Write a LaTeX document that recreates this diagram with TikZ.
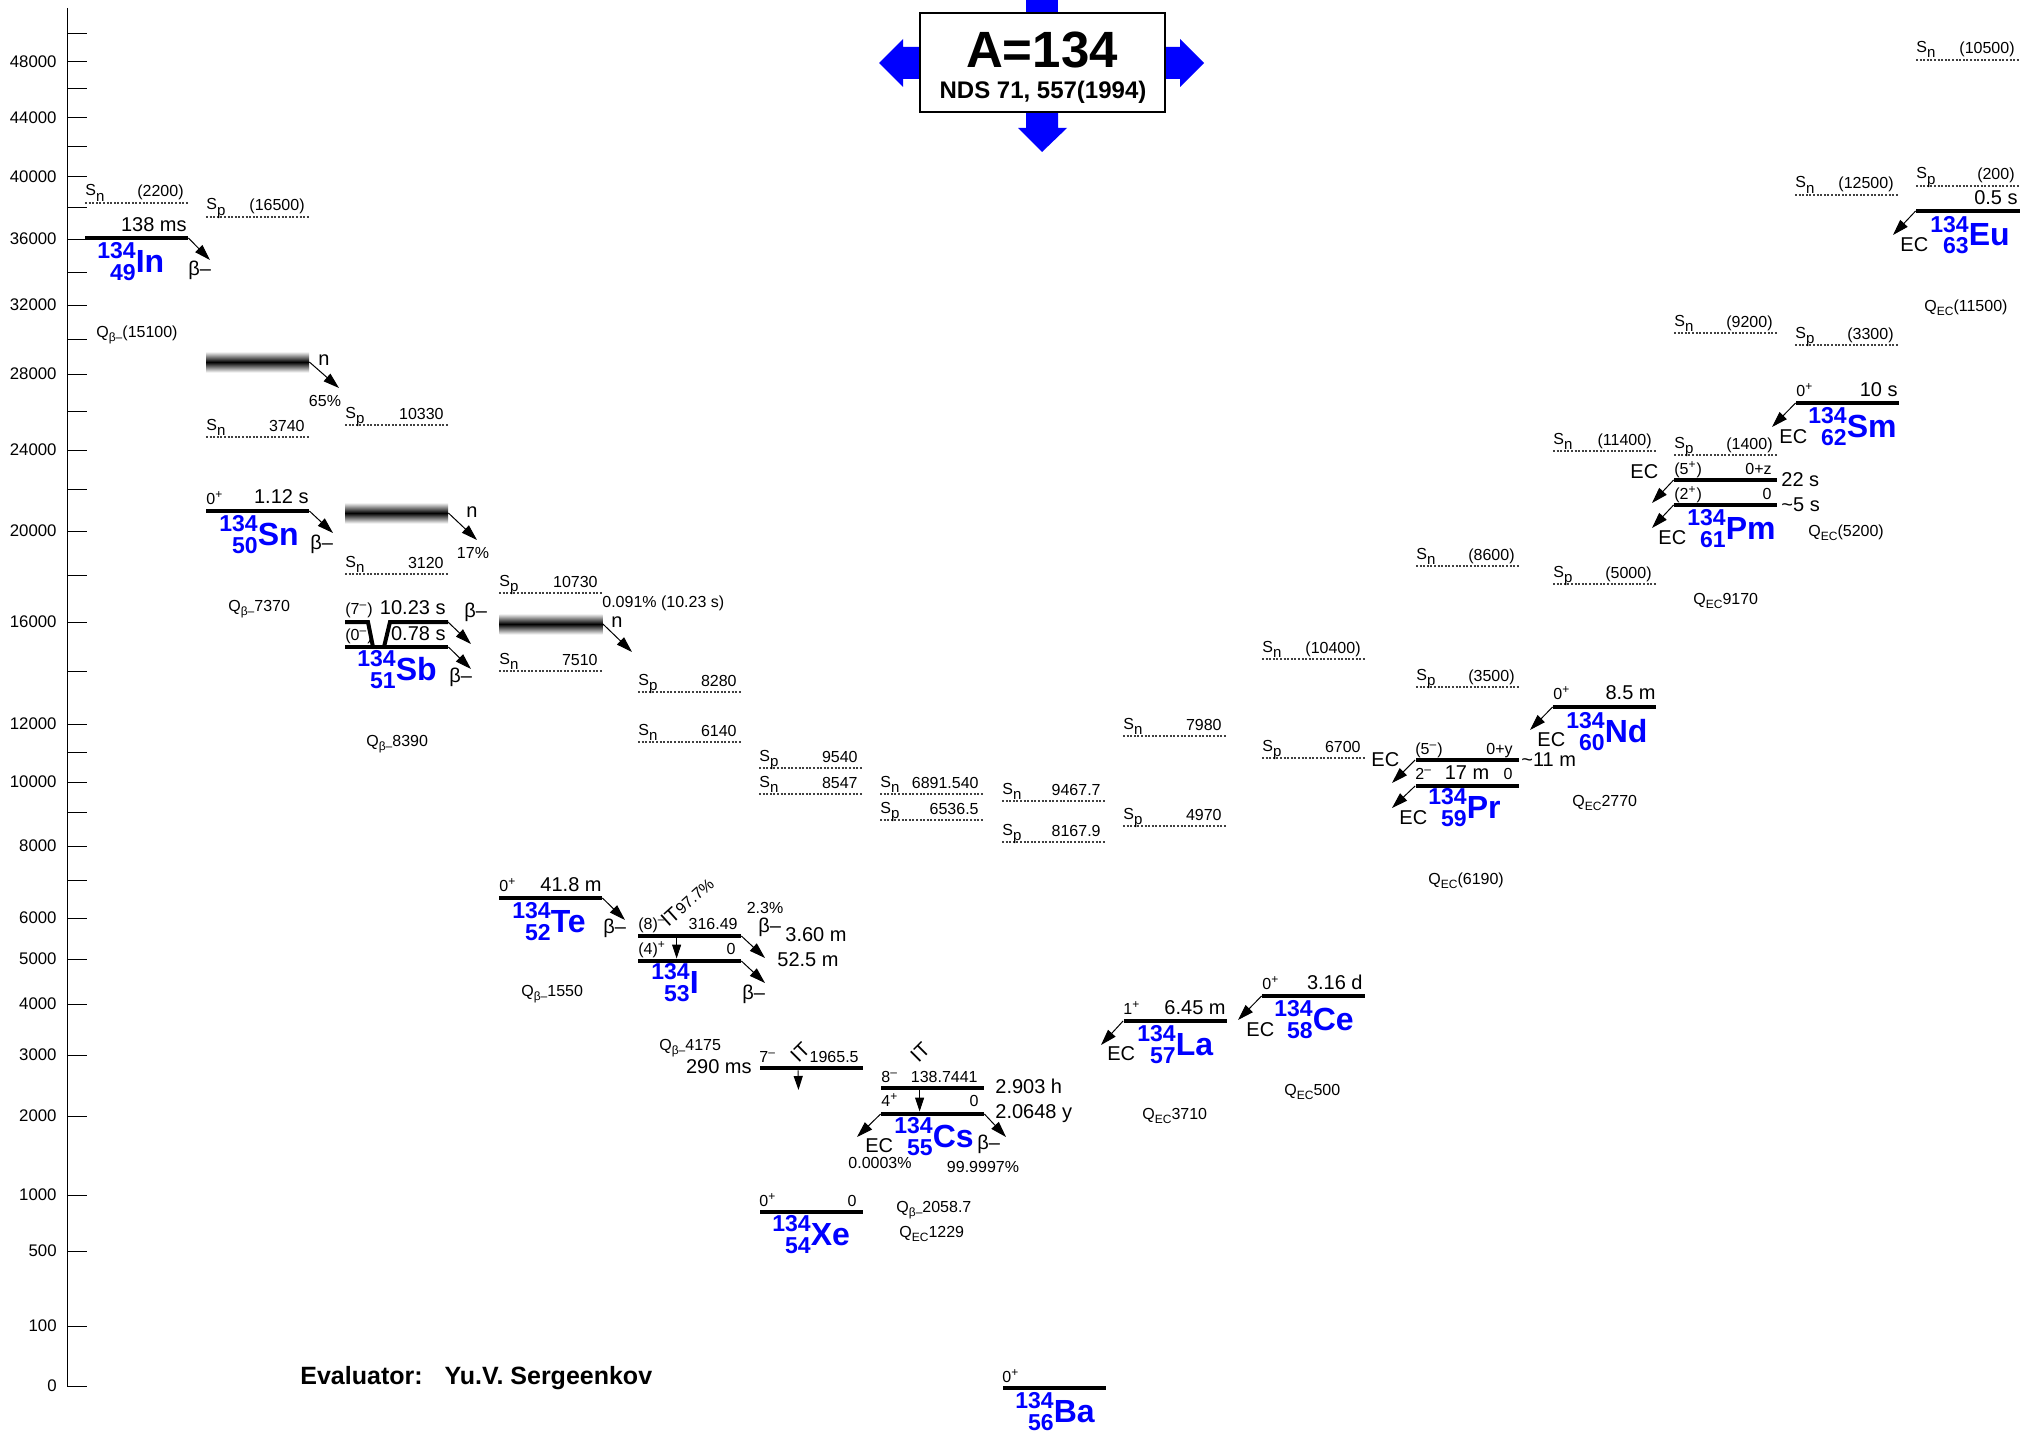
\documentclass[tikz,border=0pt]{standalone}
\usepackage{fontspec}
\setmainfont{Liberation Sans}
\usetikzlibrary{arrows.meta}
\definecolor{nucblue}{RGB}{0,0,255}

% lowered small index (Q-values)
\newcommand{\lowsub}[1]{\raisebox{-2pt}{\fontsize{6}{6}\selectfont #1}}
% lowered index of S_n / S_p
\newcommand{\sepsub}[1]{\raisebox{-2.5pt}{\fontsize{7.5}{7.5}\selectfont #1}}
% nuclide label: mass and charge stacked, right aligned, then symbol
\newcommand{\nuc}[3]{{\color{nucblue}\bfseries
  \setbox0=\hbox{\fontsize{11.5}{12}\selectfont #1}%
  \setbox2=\hbox{\fontsize{11.5}{12}\selectfont #2}%
  \ifdim\wd0>\wd2 \dimen0=\wd0 \else \dimen0=\wd2 \fi
  \hbox to \dimen0{\hss\raise6.7pt\box0}%
  \kern-\dimen0
  \hbox to \dimen0{\hss\lower4pt\box2}%
  \fontsize{16}{16}\selectfont #3}}

\begin{document}
\begin{tikzpicture}[x=0.5pt, y=-0.5pt,
  lvl/.style   ={fill=black, inner sep=0pt, minimum width=51.5pt, minimum height=2pt},
  band/.style  ={inner sep=0pt, minimum width=51.5pt, minimum height=10pt,
                 top color=black!5, bottom color=black!5, middle color=black},
  seplin/.style={dash pattern=on 1pt off 0.8pt, line width=0.6pt, black!75},
  decay/.style ={-{Triangle[length=8pt,width=5pt]}, line width=0.5pt},
  itarr/.style ={-{Triangle[length=7pt,width=4.5pt]}, line width=0.5pt},
  sml/.style   ={font=\fontsize{8}{9}\selectfont, inner sep=0pt},
  hl/.style    ={font=\fontsize{10}{11}\selectfont, inner sep=0pt},
  axl/.style   ={font=\fontsize{8.4}{9}\selectfont, inner sep=0pt, anchor=east},
  nucl/.style  ={inner sep=0pt, anchor=base west},
  bw/.style    ={anchor=base west},
  be/.style    ={anchor=base east},
]
\useasboundingbox (0,0) rectangle (2042,1434);

%% ═══ Energy axis ═══
\draw[line width=0.5pt] (67,8) -- (67,1386);
\foreach \ty in {34,89,147,208,272,339,411,489,575,671,752,812,880}
  \draw[line width=0.5pt] (67,\ty) -- (87,\ty);
\foreach \ty/\tl [count=\i] in {62/48000,118/44000,177/40000,239/36000,
    305/32000,374/28000,450/24000,531/20000,622/16000,724/12000,
    782/10000,846/8000,918/6000,959/5000,1004/4000,1055/3000,1116/2000,
    1195/1000,1251/500,1326/100,1386/0} {
  \draw[line width=0.5pt] (67,\ty) -- (87,\ty);
  \node[axl] (ax\i) at (57,\ty) {\tl};
}

%% ═══ Title ═══
\fill[blue] (1026,0) rectangle (1058,13);
\fill[blue] (920,47) -- (903,47) -- (903,39) -- (879,63) -- (903,87) -- (903,79) -- (920,79) -- cycle;
\fill[blue] (1165,47) -- (1180,47) -- (1180,39) -- (1204,63) -- (1180,87) -- (1180,79) -- (1165,79) -- cycle;
\fill[blue] (1026,112) -- (1026,128) -- (1018,128) -- (1042,152) -- (1067,128) -- (1058,128) -- (1058,112) -- cycle;
\node[draw, line width=1pt, fill=white, inner sep=0pt,
      minimum width=122.5pt, minimum height=49.5pt] (tbox) at (1042.5,62.5) {};
\node[font=\fontsize{25.5}{25.5}\selectfont\bfseries, inner sep=0pt, anchor=base]
  (tA) at (1042,68) {A=134};
\node[font=\fontsize{12}{12}\selectfont\bfseries, inner sep=0pt, anchor=base]
  (tR) at (1043,99) {NDS 71, 557(1994)};

%% ═══ Separation energies ═══
\foreach \sx/\sy/\st/\sv [count=\i] in {85/203/n/{(2200)}, 206/217/p/{(16500)},
    206/437/n/3740, 345/425/p/10330, 345/574/n/3120, 499/593/p/10730,
    499/671/n/7510, 638/692/p/8280, 638/742/n/6140, 759/768/p/9540,
    759/794/n/8547, 880/794/n/6891.540, 880/820/p/6536.5, 1002/801/n/9467.7,
    1002/842/p/8167.9, 1123/736/n/7980, 1123/826/p/4970, 1262/659/n/{(10400)},
    1262/758/p/6700, 1416/566/n/{(8600)}, 1416/687/p/{(3500)},
    1553/451/n/{(11400)}, 1553/584/p/{(5000)}, 1674/333/n/{(9200)},
    1674/455/p/{(1400)}, 1795/195/n/{(12500)}, 1795/345/p/{(3300)},
    1916/60/n/{(10500)}, 1916/186/p/{(200)}} {
  \draw[seplin] (\sx,\sy) -- ++(103,0);
  \node[sml, bw] (sS\i) at (\sx,\sy-7) {S\sepsub{\st}};
  \node[sml, be] (sV\i) at (\sx+99,\sy-6) {\sv};
}

%% ═══ 134In ═══
\node[lvl] (In0) at (136.5,238) {};
\node[hl, be] (In0t) at (187,231) {138 ms};
\node[nucl] (nIn) at (97,272) {\nuc{134}{49}{In}};
\coordinate (In0b) at (210,260);
\draw[decay] (In0.east) -- (In0b);
\node[hl, bw] (In0bl) at (188,276) {β–};
\node[sml, bw] (qIn) at (96,337) {Q\lowsub{β–}(15100)};

%% ═══ 134Sn ═══
\node[band] (bSn) at (257.5,362) {};
\node[hl, bw] (bSnn) at (318,365) {n};
\coordinate (bSnb) at (339,388);
\draw[decay] (bSn.east) -- (bSnb);
\node[sml] (bSnp) at (325,401) {65\%};
\node[lvl] (Sn0) at (257.5,511) {};
\node[sml, bw] (Sn0j) at (206,504) {0\textsuperscript{+}};
\node[hl, be] (Sn0t) at (309,503) {1.12 s};
\node[nucl] (nSn) at (219,545) {\nuc{134}{50}{Sn}};
\coordinate (Sn0b) at (333,533);
\draw[decay] (Sn0.east) -- (Sn0b);
\node[hl, bw] (Sn0bl) at (310,549) {β–};
\node[sml, bw] (qSn) at (228,611) {Q\lowsub{β–}7370};

%% ═══ 134Sb ═══
\node[band] (bSb) at (396.5,513) {};
\node[hl, bw] (bSbn) at (466,517) {n};
\coordinate (bSbb) at (477,540);
\draw[decay] (bSb.east) -- (bSbb);
\node[sml] (bSbp) at (473,553) {17\%};
\node[lvl] (Sb0) at (396.5,647) {};
\coordinate (Sb1a) at (345,622);
\coordinate (Sb1b) at (368,622);
\coordinate (Sb1c) at (373,647);
\coordinate (Sb1d) at (384,647);
\coordinate (Sb1e) at (390,622);
\coordinate (Sb1R) at (448,622);
\draw[line width=2pt] (Sb1a) -- (Sb1b) -- (Sb1c);
\draw[line width=2pt] (Sb1d) -- (Sb1e) -- (Sb1R);
\node[sml, bw] (Sb1j) at (345,614) {(7\textsuperscript{–})};
\node[hl, be] (Sb1t) at (446,614) {10.23 s};
\node[sml, bw] (Sb0j) at (345,640) {(0\textsuperscript{–})};
\node[hl, be] (Sb0t) at (446,640) {0.78 s};
\coordinate (Sb1x) at (471,644);
\draw[decay] (Sb1R) -- (Sb1x);
\coordinate (Sb0x) at (471,669);
\draw[decay] (Sb0.east) -- (Sb0x);
\node[hl, bw] (Sb1bl) at (464,617) {β–};
\node[hl, bw] (Sb0bl) at (449,682) {β–};
\node[nucl] (nSb) at (357,680) {\nuc{134}{51}{Sb}};
\node[sml, bw] (qSb) at (366,746) {Q\lowsub{β–}8390};

%% ═══ 134Te ═══
\node[band] (bTe) at (551,624) {};
\node[hl, bw] (bTen) at (611,627) {n};
\coordinate (bTeb) at (632,652);
\draw[decay] (bTe.east) -- (bTeb);
\node[sml, bw] (bTep) at (602,607) {0.091\% (10.23 s)};
\node[lvl] (Te0) at (550.5,898) {};
\node[sml, bw] (Te0j) at (499,891) {0\textsuperscript{+}};
\node[hl, be] (Te0t) at (602,891) {41.8 m};
\node[nucl] (nTe) at (512,932) {\nuc{134}{52}{Te}};
\coordinate (Te0b) at (625,920);
\draw[decay] (Te0.east) -- (Te0b);
\node[hl, bw] (Te0bl) at (603,933) {β–};
\node[sml, bw] (qTe) at (521,996) {Q\lowsub{β–}1550};

%% ═══ 134I ═══
\node[lvl] (I1) at (689.5,936) {};
\node[lvl] (I0) at (689.5,961) {};
\node[sml, bw] (I1j) at (638,929) {(8)\textsuperscript{–}};
\node[sml, be] (I1e) at (738,929) {316.49};
\node[rotate=42, anchor=base west, inner sep=0pt] (I1it) at (668,928)
  {\fontsize{10}{10}\selectfont IT\fontsize{8}{8}\selectfont 97.7\%};
\draw[itarr] ([xshift=19.5pt]I1.south west) -- ([xshift=19.5pt]I0.north west);
\node[sml, bw] (I0j) at (638,954) {(4)\textsuperscript{+}};
\node[sml, be] (I0e) at (736,954) {0};
\coordinate (I1b) at (765,958);
\draw[decay] (I1.east) -- (I1b);
\coordinate (I0b) at (765,983);
\draw[decay] (I0.east) -- (I0b);
\node[sml] (I1p) at (765,908) {2.3\%};
\node[hl, bw] (I1bl) at (758,932) {β–};
\node[hl, bw] (I1t) at (785,941) {3.60 m};
\node[hl, bw] (I0t) at (777,966) {52.5 m};
\node[hl, bw] (I0bl) at (742,999) {β–};
\node[nucl] (nI) at (651,993) {\nuc{134}{53}{I}};
\node[sml, bw] (qI) at (659,1050) {Q\lowsub{β–}4175};

%% ═══ 134Xe ═══
\node[lvl] (Xe1) at (811,1068) {};
\node[hl, be] (Xe1t) at (752,1073) {290 ms};
\node[sml, bw] (Xe1j) at (759,1062) {7\textsuperscript{–}};
\node[hl, rotate=45] (Xe1it) at (800,1052) {IT};
\node[sml, be] (Xe1e) at (859,1062) {1965.5};
\coordinate (Xe1g) at (798.5,1090);
\draw[itarr] ([xshift=19.5pt]Xe1.south west) -- (Xe1g);
\node[lvl] (Xe0) at (811,1212) {};
\node[sml, bw] (Xe0j) at (759,1206) {0\textsuperscript{+}};
\node[sml, be] (Xe0e) at (857,1206) {0};
\node[nucl] (nXe) at (772,1245) {\nuc{134}{54}{Xe}};

%% ═══ 134Cs ═══
\node[lvl] (Cs1) at (932.5,1088) {};
\node[lvl] (Cs0) at (932.5,1114) {};
\node[sml, bw] (Cs1j) at (881,1082) {8\textsuperscript{–}};
\node[sml, be] (Cs1e) at (978,1082) {138.7441};
\node[hl, rotate=45] (Cs1it) at (920,1052) {IT};
\draw[itarr] ([xshift=19.5pt]Cs1.south west) -- ([xshift=19.5pt]Cs0.north west);
\node[sml, bw] (Cs0j) at (881,1106) {4\textsuperscript{+}};
\node[sml, be] (Cs0e) at (979,1106) {0};
\node[hl, bw] (Cs1t) at (995,1093) {2.903 h};
\node[hl, bw] (Cs0t) at (995,1118) {2.0648 y};
\coordinate (Cs0ec) at (857,1137);
\draw[decay] (Cs0.west) -- (Cs0ec);
\coordinate (Cs0b) at (1006,1137);
\draw[decay] (Cs0.east) -- (Cs0b);
\node[hl, bw] (Cs0ecl) at (865,1152) {EC};
\node[sml] (Cs0ecp) at (880,1163) {0.0003\%};
\node[hl, bw] (Cs0bl) at (977,1149) {β–};
\node[sml] (Cs0bp) at (983,1167) {99.9997\%};
\node[nucl] (nCs) at (894,1147) {\nuc{134}{55}{Cs}};
\node[sml, bw] (qCs) at (896,1212) {Q\lowsub{β–}2058.7};
\node[sml, bw] (qCsec) at (899,1237) {Q\lowsub{EC}1229};

%% ═══ 134Ba ═══
\node[lvl] (Ba0) at (1054,1388) {};
\node[sml, bw] (Ba0j) at (1002,1382) {0\textsuperscript{+}};
\node[nucl] (nBa) at (1015,1422) {\nuc{134}{56}{Ba}};

%% ═══ 134La ═══
\node[lvl] (La0) at (1175,1021) {};
\node[sml, bw] (La0j) at (1123,1014) {1\textsuperscript{+}};
\node[hl, be] (La0t) at (1226,1014) {6.45 m};
\coordinate (La0ec) at (1101,1045);
\draw[decay] (La0.west) -- (La0ec);
\node[hl, bw] (La0ecl) at (1107,1060) {EC};
\node[nucl] (nLa) at (1137,1055) {\nuc{134}{57}{La}};
\node[sml, bw] (qLa) at (1142,1119) {Q\lowsub{EC}3710};

%% ═══ 134Ce ═══
\node[lvl] (Ce0) at (1313.5,996) {};
\node[sml, bw] (Ce0j) at (1262,989) {0\textsuperscript{+}};
\node[hl, be] (Ce0t) at (1363,989) {3.16 d};
\coordinate (Ce0ec) at (1238,1020);
\draw[decay] (Ce0.west) -- (Ce0ec);
\node[hl, bw] (Ce0ecl) at (1246,1036) {EC};
\node[nucl] (nCe) at (1274,1030) {\nuc{134}{58}{Ce}};
\node[sml, bw] (qCe) at (1284,1095) {Q\lowsub{EC}500};

%% ═══ 134Pr ═══
\node[lvl] (Pr1) at (1467,760) {};
\node[lvl] (Pr0) at (1467,786) {};
\node[sml, bw] (Pr1j) at (1415,754) {(5\textsuperscript{–})};
\node[sml, be] (Pr1e) at (1513,754) {0+y};
\node[hl, bw] (Pr1t) at (1521,766) {\textasciitilde{}11 m};
\node[hl, bw] (Pr1ecl) at (1371,766) {EC};
\coordinate (Pr1ec) at (1392,783);
\draw[decay] (Pr1.west) -- (Pr1ec);
\node[sml, bw] (Pr0j) at (1415,779) {2\textsuperscript{–}};
\node[hl, anchor=base] (Pr0t) at (1467,779) {17 m};
\node[sml, be] (Pr0e) at (1513,779) {0};
\coordinate (Pr0ec) at (1392,808);
\draw[decay] (Pr0.west) -- (Pr0ec);
\node[hl, bw] (Pr0ecl) at (1399,824) {EC};
\node[nucl] (nPr) at (1428,818) {\nuc{134}{59}{Pr}};
\node[sml, bw] (qPr) at (1428,884) {Q\lowsub{EC}(6190)};

%% ═══ 134Nd ═══
\node[lvl] (Nd0) at (1604.5,707) {};
\node[sml, bw] (Nd0j) at (1553,699) {0\textsuperscript{+}};
\node[hl, be] (Nd0t) at (1656,699) {8.5 m};
\coordinate (Nd0ec) at (1530,730);
\draw[decay] (Nd0.west) -- (Nd0ec);
\node[hl, bw] (Nd0ecl) at (1537,746) {EC};
\node[nucl] (nNd) at (1566,742) {\nuc{134}{60}{Nd}};
\node[sml, bw] (qNd) at (1572,806) {Q\lowsub{EC}2770};

%% ═══ 134Pm ═══
\node[lvl] (Pm1) at (1725.5,480) {};
\node[lvl] (Pm0) at (1725.5,505) {};
\node[sml, bw] (Pm1j) at (1674,474) {(5\textsuperscript{+})};
\node[sml, be] (Pm1e) at (1772,474) {0+z};
\node[hl, bw] (Pm1t) at (1781,486) {22 s};
\node[hl, bw] (Pm1ecl) at (1630,478) {EC};
\coordinate (Pm1ec) at (1652,503);
\draw[decay] (Pm1.west) -- (Pm1ec);
\node[sml, bw] (Pm0j) at (1674,499) {(2\textsuperscript{+})};
\node[sml, be] (Pm0e) at (1772,499) {0};
\node[hl, bw] (Pm0t) at (1781,511) {\textasciitilde{}5 s};
\coordinate (Pm0ec) at (1652,528);
\draw[decay] (Pm0.west) -- (Pm0ec);
\node[hl, bw] (Pm0ecl) at (1658,544) {EC};
\node[nucl] (nPm) at (1687,539) {\nuc{134}{61}{Pm}};
\node[sml, bw] (qPm) at (1808,536) {Q\lowsub{EC}(5200)};
\node[sml, bw] (qPmb) at (1693,604) {Q\lowsub{EC}9170};

%% ═══ 134Sm ═══
\node[lvl] (Sm0) at (1847.5,403) {};
\node[sml, bw] (Sm0j) at (1796,396) {0\textsuperscript{+}};
\node[hl, be] (Sm0t) at (1898,396) {10 s};
\coordinate (Sm0ec) at (1772,427);
\draw[decay] (Sm0.west) -- (Sm0ec);
\node[hl, bw] (Sm0ecl) at (1779,443) {EC};
\node[nucl] (nSm) at (1808,437) {\nuc{134}{62}{Sm}};

%% ═══ 134Eu ═══
\node[lvl, minimum width=52pt] (Eu0) at (1968,211) {};
\node[hl, be] (Eu0t) at (2018,205) {0.5 s};
\coordinate (Eu0ec) at (1893,235);
\draw[decay] (Eu0.west) -- (Eu0ec);
\node[hl, bw] (Eu0ecl) at (1900,251) {EC};
\node[nucl] (nEu) at (1930,246) {\nuc{134}{63}{Eu}};
\node[sml, bw] (qEu) at (1924,311) {Q\lowsub{EC}(11500)};

% Evaluator
\node[font=\fontsize{12.5}{12.5}\selectfont\bfseries, inner sep=0pt, bw]
  (eval) at (300,1384) {Evaluator:\hspace{11pt}Yu.V. Sergeenkov};

\end{tikzpicture}
\end{document}
